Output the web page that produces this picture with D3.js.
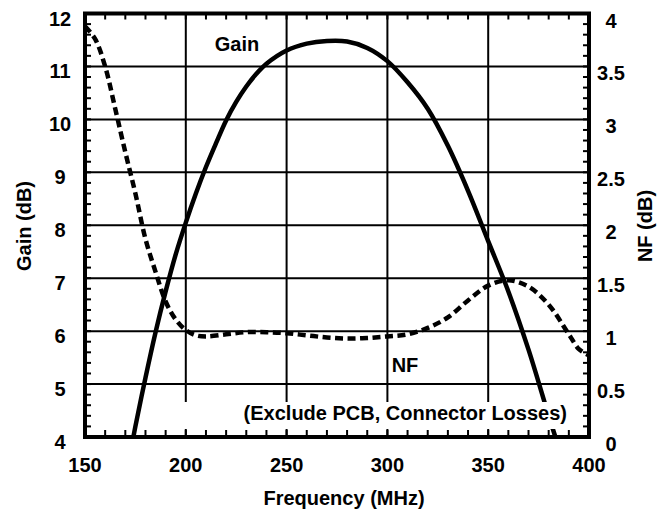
<!DOCTYPE html>
<html>
<head>
<meta charset="utf-8">
<script src="https://cdn.jsdelivr.net/npm/d3@7"></script>
<style>
    body { margin: 0; background: #fff; }
    text { font-family: "Liberation Sans", Arial, sans-serif; font-weight: bold; font-size: 20px; fill: #000; }
</style>
</head>
<body>
<div id="chart"></div>
<script>
// gain curve (MHz, dB)
var gainFreq = [172, 175, 180, 185, 190, 195, 200, 205, 210, 215, 220, 225, 230, 235, 240, 250, 260, 270, 280, 290, 300, 310, 320, 330, 340, 350, 360, 370, 380, 385];
var gainDb   = [3.6, 4.2, 5.12, 5.98, 6.75, 7.45, 8.05, 8.6, 9.1, 9.55, 9.98, 10.33, 10.62, 10.86, 11.05, 11.3, 11.43, 11.48, 11.47, 11.35, 11.1, 10.7, 10.2, 9.5, 8.65, 7.7, 6.75, 5.65, 4.4, 3.8];

// noise figure curve (MHz, dB)
var nfFreq = [150, 155, 160, 165, 170, 175, 180, 185, 190, 195, 200, 205, 210, 220, 230, 240, 250, 260, 270, 280, 290, 300, 310, 320, 330, 340, 350, 360, 370, 380, 390, 395, 400];
var nfDb   = [3.88, 3.76, 3.5, 3.1, 2.69, 2.3, 1.87, 1.56, 1.28, 1.11, 1.01, 0.96, 0.95, 0.97, 0.99, 0.99, 0.98, 0.96, 0.94, 0.93, 0.935, 0.95, 0.97, 1.03, 1.13, 1.29, 1.43, 1.48, 1.42, 1.25, 0.97, 0.83, 0.77];

var freqTicks = [150, 200, 250, 300, 350, 400];
var gainTicks = [4, 5, 6, 7, 8, 9, 10, 11, 12];
var nfTicks = [0, 0.5, 1, 1.5, 2, 2.5, 3, 3.5, 4];

var svg = d3.select("#chart").append("svg")
    .attr("width", 672)
    .attr("height", 510);

var plotLeft = 85, plotRight = 589, plotTop = 13.5, plotBottom = 437;

var x = d3.scaleLinear().domain([150, 400]).range([plotLeft, plotRight]);
var yGain = d3.scaleLinear().domain([4, 12]).range([plotBottom, plotTop]);
var yNf = d3.scaleLinear().domain([0, 4]).range([plotBottom, plotTop]);

// grid lines
var grid = svg.append("g").attr("stroke", "#000").attr("stroke-width", 2);
grid.selectAll(".vgrid")
    .data(freqTicks.slice(1, -1))
    .enter().append("line")
    .attr("x1", d => x(d)).attr("x2", d => x(d))
    .attr("y1", plotTop).attr("y2", plotBottom);
grid.selectAll(".hgrid")
    .data(gainTicks.slice(1, -1))
    .enter().append("line")
    .attr("x1", plotLeft).attr("x2", plotRight)
    .attr("y1", d => yGain(d)).attr("y2", d => yGain(d));

// minor ticks pointing inwards
var minorX = d3.range(160, 400, 10);
var minorGain = d3.range(4.2, 11.95, 0.2);
var minorNf = d3.range(0.1, 3.95, 0.1);
var ticks = svg.append("g").attr("stroke", "#000").attr("stroke-width", 2);
minorX.forEach(function(f) {
    ticks.append("line").attr("x1", x(f)).attr("x2", x(f)).attr("y1", plotBottom).attr("y2", plotBottom - 7);
    ticks.append("line").attr("x1", x(f)).attr("x2", x(f)).attr("y1", plotTop).attr("y2", plotTop + 6);
});
minorGain.forEach(function(g) {
    ticks.append("line").attr("x1", plotLeft).attr("x2", plotLeft + 6).attr("y1", yGain(g)).attr("y2", yGain(g));
});
minorNf.forEach(function(n) {
    ticks.append("line").attr("x1", plotRight).attr("x2", plotRight - 6).attr("y1", yNf(n)).attr("y2", yNf(n));
});

svg.append("clipPath").attr("id", "plotClip")
    .append("rect")
    .attr("x", plotLeft).attr("y", plotTop)
    .attr("width", plotRight - plotLeft).attr("height", plotBottom - plotTop);

var gainLine = d3.line()
    .x((d, i) => x(gainFreq[i]))
    .y(d => yGain(d))
    .curve(d3.curveCatmullRom.alpha(0.5));

var nfLine = d3.line()
    .x((d, i) => x(nfFreq[i]))
    .y(d => yNf(d))
    .curve(d3.curveCatmullRom.alpha(0.5));

svg.append("path")
    .attr("clip-path", "url(#plotClip)")
    .attr("d", nfLine(nfDb))
    .attr("fill", "none")
    .attr("stroke", "#000")
    .attr("stroke-width", 4.5)
    .attr("stroke-dasharray", "8,4.5");

svg.append("path")
    .attr("clip-path", "url(#plotClip)")
    .attr("d", gainLine(gainDb))
    .attr("fill", "none")
    .attr("stroke", "#000")
    .attr("stroke-width", 4.5);

// note box
svg.append("rect")
    .attr("x", 184).attr("y", 402)
    .attr("width", 388).attr("height", 27)
    .attr("fill", "#fff");
svg.append("text")
    .attr("x", 567).attr("y", 420)
    .attr("text-anchor", "end")
    .text("(Exclude PCB, Connector Losses)");

// frame
svg.append("rect")
    .attr("x", plotLeft).attr("y", plotTop)
    .attr("width", plotRight - plotLeft).attr("height", plotBottom - plotTop)
    .attr("fill", "none")
    .attr("stroke", "#000")
    .attr("stroke-width", 4);

// tick labels
svg.selectAll(".xlab")
    .data(freqTicks)
    .enter().append("text")
    .attr("x", d => x(d)).attr("y", 472)
    .attr("text-anchor", "middle")
    .text(d => d);

svg.selectAll(".glab")
    .data(gainTicks)
    .enter().append("text")
    .attr("x", 60).attr("y", d => yGain(d) + 12)
    .attr("text-anchor", "middle")
    .text(d => d);

svg.selectAll(".nlab")
    .data(nfTicks)
    .enter().append("text")
    .attr("x", 611).attr("y", d => yNf(d) + 14)
    .attr("text-anchor", "middle")
    .text(d => d);

// axis titles
svg.append("text")
    .attr("x", 344).attr("y", 505)
    .attr("text-anchor", "middle")
    .text("Frequency (MHz)");

svg.append("text")
    .attr("transform", "translate(31,226) rotate(-90)")
    .attr("text-anchor", "middle")
    .text("Gain (dB)");

svg.append("text")
    .attr("transform", "translate(652,226) rotate(-90)")
    .attr("text-anchor", "middle")
    .text("NF (dB)");

// curve labels
svg.append("text").attr("x", 237).attr("y", 51).attr("text-anchor", "middle").text("Gain");
svg.append("text").attr("x", 405).attr("y", 372).attr("text-anchor", "middle").text("NF");
</script>
</body>
</html>
